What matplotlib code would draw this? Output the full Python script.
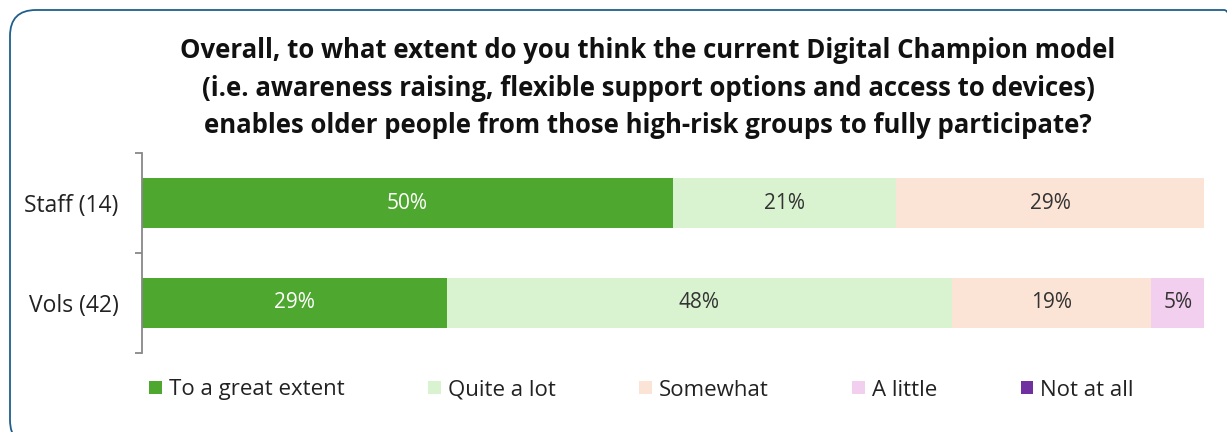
import matplotlib.pyplot as plt
from matplotlib.patches import FancyBboxPatch
from matplotlib.transforms import IdentityTransform
import numpy as np

groups = ["Staff (14)", "Vols (42)"]
responses = ["To a great extent", "Quite a lot", "Somewhat", "A little", "Not at all"]
staff_pct = [50, 21, 29, 0, 0]
vols_pct = [29, 48, 19, 5, 0]
colors = ["#4ea72e", "#d9f2d0", "#fbe3d6", "#f2ceef", "#7030a0"]
label_colors = ["white", "#333333", "#333333", "#333333", "#333333"]

title = ("Overall, to what extent do you think the current Digital Champion model\n"
         "(i.e. awareness raising, flexible support options and access to devices)\n"
         "enables older people from those high-risk groups to fully participate?")

plt.rcParams["font.family"] = ["Open Sans", "DejaVu Sans"]

W, H = 1227, 432
fig = plt.figure(figsize=(W / 100, H / 100), dpi=100)

# rounded frame around the whole chart (pixel units, origin bottom-left)
frame = FancyBboxPatch((10, -14), 1240, 436,
                       boxstyle="round,pad=0,rounding_size=26",
                       transform=IdentityTransform(), facecolor="none",
                       edgecolor="#1f5f8b", linewidth=1.3, clip_on=False)
fig.patches.append(frame)

ax = fig.add_axes([142 / W, 1 - 353 / H, (1204 - 142) / W, 200 / H])

data = np.array([staff_pct, vols_pct], dtype=float)
shares = data / data.sum(axis=1, keepdims=True) * 100
ypos = np.arange(len(groups))
left = np.zeros(len(groups))
for i, resp in enumerate(responses):
    ax.barh(ypos, shares[:, i], left=left, height=0.5, color=colors[i], label=resp)
    for j in range(len(groups)):
        if data[j, i] > 0:
            ax.text(left[j] + shares[j, i] / 2, ypos[j], f"{data[j, i]:.0f}%",
                    ha="center", va="center", fontsize=15, color=label_colors[i])
    left += shares[:, i]

ax.set_xlim(0, 100)
ax.set_ylim(1.5, -0.5)
ax.set_xticks([])
ax.set_yticks(ypos)
ax.set_yticklabels(groups, fontsize=16.5, color="#222222")
ax.tick_params(axis="y", which="major", length=0, pad=17)
ax.set_yticks([-0.5, 0.5, 1.5], minor=True)
ax.tick_params(axis="y", which="minor", length=5, width=1.3, color="#888888")
for s in ["top", "right", "bottom"]:
    ax.spines[s].set_visible(False)
ax.spines["left"].set_color("#888888")
ax.spines["left"].set_linewidth(1.3)

fig.text(648 / W, 1 - 88 / H, title, ha="center", va="center", fontsize=18.5,
         fontweight="bold", color="#111111", linespacing=1.5)

ax.legend(loc="center left", bbox_to_anchor=(0.007, -0.185), ncol=5, frameon=False,
          fontsize=16, handlelength=0.56, handleheight=0.56, handletextpad=0.33,
          columnspacing=3.75, labelcolor="#222222", borderaxespad=0, borderpad=0)

fig.savefig("out.png", dpi=100)
